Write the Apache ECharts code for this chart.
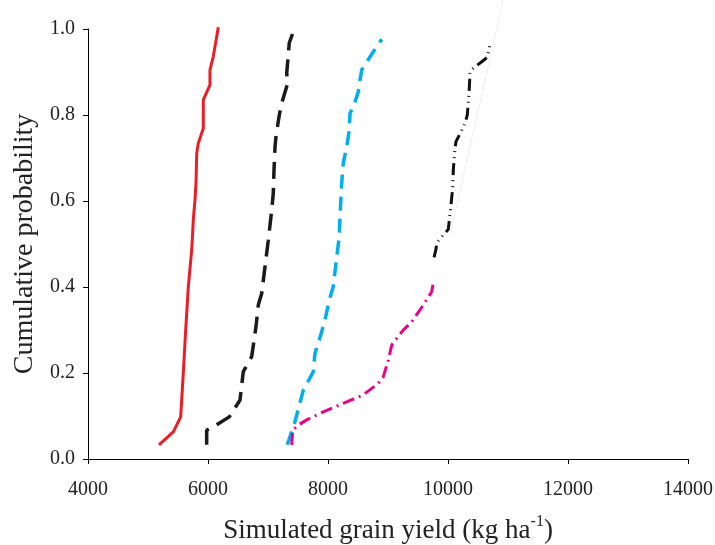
<!DOCTYPE html>
<html>
<head>
<meta charset="utf-8">
<script src="https://cdn.jsdelivr.net/npm/echarts@6/dist/echarts.min.js"></script>
<style>html,body{margin:0;padding:0;background:#fff;}#c{width:715px;height:545px;}</style>
</head>
<body>
<div id="c"></div>
<script>
// Series 1 (red, solid)
const redX = [5183,5422,5545,5588,5628,5672,5728,5738,5755,5783,5800,5812,5838,5922,5922,6033,6033,6088,6172];
const redY = [0.033,0.063,0.098,0.199,0.300,0.401,0.486,0.509,0.556,0.602,0.642,0.711,0.734,0.769,0.835,0.870,0.905,0.936,1.004];
// Series 2 (black, dashed)
const blackX = [5978,5978,6117,6355,6533,6588,6728,6800,6838,6895,6950,7005,7062,7088,7100,7117,7133,7188,7228,7328,7312,7355,7450];
const blackY = [0.033,0.067,0.077,0.098,0.137,0.203,0.238,0.308,0.358,0.385,0.447,0.509,0.579,0.618,0.672,0.726,0.750,0.800,0.827,0.874,0.897,0.968,1.004];
// Series 3 (blue, dashed)
const blueX = [7322,7450,7588,7755,7783,7855,7950,8022,8088,8145,8188,8200,8228,8255,8312,8355,8367,8422,8505,8533,8562,8755,8895];
const blueY = [0.033,0.087,0.160,0.203,0.246,0.277,0.323,0.370,0.401,0.470,0.517,0.563,0.641,0.688,0.726,0.765,0.804,0.819,0.854,0.881,0.905,0.947,0.976];
// Series 4 (magenta, dash-dot)
const pinkX = [7395,7412,7505,7645,7867,8312,8588,8838,8922,9005,9062,9255,9395,9588,9728,9755];
const pinkY = [0.033,0.067,0.079,0.091,0.106,0.133,0.149,0.176,0.191,0.230,0.265,0.300,0.319,0.358,0.389,0.410];
// Series 5 (black, dash-dot-dot)
const dkX = [9767,9800,9812,10005,10055,10078,10088,10117,10133,10245,10283,10322,10355,10367,10422,10545,10655,10700];
const dkY = [0.469,0.488,0.503,0.534,0.598,0.630,0.672,0.723,0.738,0.769,0.781,0.800,0.862,0.901,0.909,0.922,0.934,0.965];
// Faint line
const faintX = [10033,10917];
const faintY = [0.521,1.067];

const xTicks = [4000,6000,8000,10000,12000,14000];
const yTicks = [0.0,0.2,0.4,0.6,0.8,1.0];

function pairs(xs, ys){ return xs.map((x,i)=>[x, ys[i]]); }

const font = 'Liberation Serif';
const chart = echarts.init(document.getElementById('c'));
chart.setOption({
  animation:false,
  backgroundColor:'#fff',
  grid:{left:88,right:27,top:29,bottom:86,containLabel:false,outerBoundsMode:'none'},
  xAxis:{
    type:'value', min:xTicks[0], max:xTicks[xTicks.length-1], interval:2000,
    axisLine:{show:true,lineStyle:{color:'#000',width:1}},
    axisTick:{show:true,length:5,lineStyle:{color:'#000'}},
    splitLine:{show:false},
    axisLabel:{color:'#222',fontFamily:font,fontSize:20,margin:21,formatter:v=>String(v)},
    name:'{a|Simulated grain yield (kg ha}{s|-1}{a|)}',
    nameLocation:'middle', nameGap:55,
    nameTextStyle:{rich:{
      a:{fontFamily:font,fontSize:27,color:'#222',verticalAlign:'bottom',lineHeight:30},
      s:{fontFamily:font,fontSize:16,color:'#222',verticalAlign:'top',lineHeight:30,padding:[0,0,14,0]}
    }}
  },
  yAxis:{
    type:'value', min:0, max:1, interval:0.2,
    axisLine:{show:true,lineStyle:{color:'#000',width:1}},
    axisTick:{show:true,length:5,lineStyle:{color:'#000'}},
    splitLine:{show:false},
    axisLabel:{color:'#222',fontFamily:font,fontSize:20,margin:13,formatter:v=>v.toFixed(1)},
    name:'Cumulative probability', nameLocation:'middle', nameGap:48,
    nameTextStyle:{fontFamily:font,fontSize:28,color:'#222'}
  },
  series:[
    {type:'line',data:pairs(faintX,faintY),showSymbol:false,clip:false,silent:true,
      lineStyle:{color:'#eeeeee',width:1}},
    {type:'line',data:pairs(redX,redY),showSymbol:false,clip:false,
      lineStyle:{color:'#ee1c25',width:3}},
    {type:'line',data:pairs(blackX,blackY),showSymbol:false,clip:false,
      lineStyle:{color:'#1a1a1a',width:3.5,type:[17,9]}},
    {type:'line',data:pairs(blueX,blueY),showSymbol:false,clip:false,
      lineStyle:{color:'#00aeef',width:3.5,type:[14,8]}},
    {type:'line',data:pairs(pinkX,pinkY),showSymbol:false,clip:false,
      lineStyle:{color:'#ec008c',width:3,type:[12,5,2,5]}},
    {type:'line',data:pairs(dkX,dkY),showSymbol:false,clip:false,
      lineStyle:{color:'#111',width:3,type:[12,5,1,5,1,5]}}
  ]
});
</script>
</body>
</html>
